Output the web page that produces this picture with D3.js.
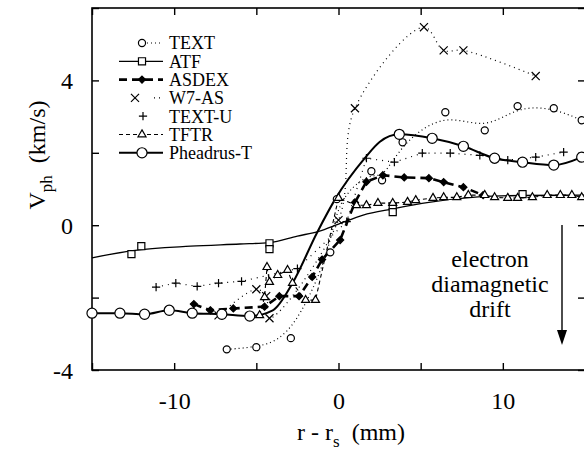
<!DOCTYPE html>
<html>
<head>
<meta charset="utf-8">
<script src="https://cdn.jsdelivr.net/npm/d3@7"></script>
<style>
    body { margin: 0; background: #fff; }
</style>
</head>
<body>
<div id="chart"></div>
<script>
// axis ticks
const xTicks = [-15, -10, -5, 0, 5, 10, 15];
const xLabels = [-10, 0, 10];
const yTicks = [-4, -2, 0, 2, 4, 6];
const yLabels = [-4, 0, 4];

const seriesNames = ["TEXT", "ATF", "ASDEX", "W7-AS", "TEXT-U", "TFTR", "Pheadrus-T"];

// [r - rs (mm), Vph (km/s)]
const textPts = [[-6.8, -3.43], [-5.0, -3.37], [-2.9, -3.12], [-0.5, -0.75], [-0.1, 0.72],
    [2.0, 1.49], [2.65, 1.24], [3.9, 2.29], [6.5, 3.12], [8.9, 2.62], [10.9, 3.29], [13.1, 3.23], [14.8, 2.9]];
const atfPts = [[-12.6, -0.8], [-12.0, -0.58], [-4.2, -0.5], [-4.2, -0.66], [3.3, 0.52], [3.3, 0.36], [11.2, 0.86]];
const atfFit = [[-15, -0.9], [-12.5, -0.7], [-9, -0.58], [-6, -0.52], [-4.2, -0.48], [-2.5, -0.3], [-1.2, -0.17],
    [0, 0.03], [1.5, 0.28], [3.3, 0.45], [5.5, 0.63], [8.5, 0.78], [11.2, 0.82], [15, 0.83]];
const asdexPts = [[-8.8, -2.18], [-7.8, -2.35], [-6.4, -2.3], [-4.5, -2.25], [-3.6, -1.96], [-2.4, -1.96],
    [-1.6, -1.43], [-1.0, -0.95], [0.1, -0.41], [1.0, 0.63], [1.7, 1.2], [2.7, 1.38], [4.0, 1.32], [5.5, 1.3],
    [6.4, 1.19], [7.6, 1.05], [8.8, 0.83]];
const w7asPts = [[-7.3, -2.49], [-5.0, -1.77], [-4.4, -1.96], [-4.2, -2.57], [0.0, 0.14], [1.0, 3.23],
    [5.2, 5.47], [6.4, 4.83], [7.6, 4.83], [12.0, 4.12]];
const textUPts = [[-11.1, -1.71], [-9.9, -1.6], [-8.6, -1.69], [-7.3, -1.6], [-5.9, -1.55], [-2.5, -1.2],
    [0.5, 0.1], [1.7, 1.85], [3.4, 1.74], [5.1, 1.99], [6.8, 1.99], [8.6, 1.93], [10.3, 1.8], [12.0, 1.88], [13.7, 2.02]];
const tftrPts = [[-4.8, -2.49], [-4.5, -1.99], [-4.35, -1.16], [-4.2, -1.57], [-3.7, -1.38], [-3.1, -1.24],
    [-2.8, -1.6], [-2.0, -2.07], [-1.4, -2.07], [0.0, 0.75], [1.1, 0.55], [1.7, 0.55], [2.4, 0.61], [3.3, 0.61],
    [4.2, 0.64], [4.7, 0.69], [5.75, 0.75], [6.4, 0.77], [7.2, 0.77], [7.9, 0.83], [8.9, 0.83], [9.5, 0.77],
    [10.3, 0.75], [10.9, 0.75], [11.8, 0.77], [12.7, 0.83], [13.5, 0.83], [14.2, 0.83], [14.8, 0.77]];
const pheadrusPts = [[-15, -2.43], [-13.3, -2.43], [-11.8, -2.46], [-10.3, -2.35], [-8.9, -2.43], [-7.1, -2.46],
    [-5.4, -2.51], [3.7, 2.51], [5.7, 2.4], [7.6, 2.18], [9.5, 1.85], [11.2, 1.74], [13.1, 1.66], [14.8, 1.88]];
const pheadrusFit = [[-15, -2.43], [-13.3, -2.43], [-11.8, -2.46], [-10.3, -2.35], [-8.9, -2.43], [-7.1, -2.46],
    [-5.4, -2.51], [-4.0, -2.35], [-2.8, -1.6], [-1.3, -0.2], [-0.2, 0.72], [1.6, 1.85], [2.5, 2.3], [3.7, 2.51],
    [5.7, 2.4], [7.6, 2.18], [9.5, 1.85], [11.2, 1.74], [13.1, 1.66], [14.8, 1.88]];

const noteLines = ["electron", "diamagnetic", "drift"];

const width = 584, height = 455;
const margin = {left: 92, top: 8, right: -1, bottom: 85};
const serif = '"Liberation Serif", "Times New Roman", serif';

const svg = d3.select("#chart").append("svg")
    .attr("width", width)
    .attr("height", height)
    .style("display", "block")
    .style("font-family", serif);

const x = d3.scaleLinear().domain([-15, 15]).range([margin.left, width - margin.right]);
const y = d3.scaleLinear().domain([-4, 6]).range([height - margin.bottom, margin.top]);

const styles = {
    "TEXT":       {pts: textPts, line: textPts, curve: d3.curveBasis, width: 1.2, dash: "1,3", sym: d3.symbolCircle, size: 40, fill: "#fff", lx: [147, 163], mx: 142},
    "ATF":        {pts: atfPts, line: atfFit, curve: d3.curveMonotoneX, width: 1.3, dash: null, sym: d3.symbolSquare, size: 50, fill: "#fff", lx: [119, 163], mx: 142},
    "ASDEX":      {pts: asdexPts, line: asdexPts, curve: d3.curveLinear, width: 2.6, dash: "8,5", sym: d3.symbolDiamond2, size: 32, fill: "#000", lx: [119, 163], mx: 142},
    "W7-AS":      {pts: w7asPts, line: w7asPts, curve: d3.curveCatmullRom, width: 1.2, dash: "1,4", sym: d3.symbolTimes, size: 44, fill: "none", lx: [154, 160], mx: 135},
    "TEXT-U":     {pts: textUPts, line: textUPts, curve: d3.curveLinear, width: 1.2, dash: "1,5", sym: d3.symbolPlus, size: 24, fill: "none", lx: null, mx: 143},
    "TFTR":       {pts: tftrPts, line: tftrPts, curve: d3.curveLinear, width: 1.1, dash: "4,3", sym: d3.symbolTriangle, size: 28, fill: "#fff", lx: [119, 163], mx: 142},
    "Pheadrus-T": {pts: pheadrusPts, line: pheadrusFit, curve: d3.curveMonotoneX, width: 2, dash: null, sym: d3.symbolCircle, size: 80, fill: "#fff", lx: [119, 163], mx: 142}
};

// frame
svg.append("rect")
    .attr("x", x(-15)).attr("y", y(6))
    .attr("width", x(15) - x(-15)).attr("height", y(-4) - y(6))
    .attr("fill", "none").attr("stroke", "#000").attr("stroke-width", 1.6);

// axes with inward ticks
const fmtX = d => xLabels.includes(d) ? d : "";
const fmtY = d => yLabels.includes(d) ? d : "";

const xAxis = svg.append("g")
    .attr("transform", `translate(0, ${y(-4)})`)
    .call(d3.axisBottom(x).tickValues(xTicks).tickSize(-7).tickPadding(22).tickFormat(fmtX));
const xTop = svg.append("g")
    .attr("transform", `translate(0, ${y(6)})`)
    .call(d3.axisTop(x).tickValues(xTicks).tickSize(-7).tickFormat(""));
const yAxis = svg.append("g")
    .attr("transform", `translate(${x(-15)}, 0)`)
    .call(d3.axisLeft(y).tickValues(yTicks).tickSize(-7).tickPadding(19).tickFormat(fmtY));
const yRight = svg.append("g")
    .attr("transform", `translate(${x(15)}, 0)`)
    .call(d3.axisRight(y).tickValues(yTicks).tickSize(-7).tickFormat(""));

svg.selectAll(".domain").remove();
[xAxis, xTop, yAxis, yRight].forEach(g => g.style("font-family", serif).attr("font-size", 24));
svg.selectAll(".tick line").attr("stroke", "#000").attr("stroke-width", 1.4);
svg.selectAll(".tick text").attr("fill", "#000").style("font-family", serif);
yAxis.selectAll(".tick text").attr("dy", "0.35em");

// axis titles
const xTitle = svg.append("text")
    .attr("x", 351).attr("y", 440)
    .attr("text-anchor", "middle")
    .attr("font-size", 24);
xTitle.append("tspan").text("r - r");
xTitle.append("tspan").attr("font-size", 17).attr("dy", 7).text("s");
xTitle.append("tspan").attr("dy", -7).text("\u00a0 (mm)");

const yTitle = svg.append("text")
    .attr("transform", "translate(45, 155) rotate(-90)")
    .attr("text-anchor", "middle")
    .attr("font-size", 24);
yTitle.append("tspan").text("V");
yTitle.append("tspan").attr("font-size", 17).attr("dy", 7).text("ph");
yTitle.append("tspan").attr("dy", -7).text("\u00a0 (km/s)");

// series
const plot = svg.append("g");
seriesNames.forEach(name => {
    const s = styles[name];
    const line = d3.line()
        .x(d => x(d[0]))
        .y(d => y(d[1]))
        .curve(s.curve);
    plot.append("path")
        .datum(s.line)
        .attr("d", line)
        .attr("fill", "none")
        .attr("stroke", "#000")
        .attr("stroke-width", s.width)
        .attr("stroke-dasharray", s.dash);
});
seriesNames.forEach(name => {
    const s = styles[name];
    const sym = d3.symbol().type(s.sym).size(s.size);
    plot.append("g").selectAll("path")
        .data(s.pts)
        .join("path")
        .attr("transform", d => `translate(${x(d[0])}, ${y(d[1])})`)
        .attr("d", sym)
        .attr("fill", s.fill)
        .attr("stroke", "#000")
        .attr("stroke-width", 1.2);
});

// legend
const legend = svg.append("g");
seriesNames.forEach((name, i) => {
    const s = styles[name];
    const ly = 43 + i * 18.3;
    if (s.lx) {
        legend.append("line")
            .attr("x1", s.lx[0]).attr("x2", s.lx[1])
            .attr("y1", ly).attr("y2", ly)
            .attr("stroke", "#000")
            .attr("stroke-width", s.width)
            .attr("stroke-dasharray", s.dash);
    }
    legend.append("path")
        .attr("transform", `translate(${s.mx}, ${ly})`)
        .attr("d", d3.symbol().type(s.sym).size(s.size))
        .attr("fill", s.fill)
        .attr("stroke", "#000")
        .attr("stroke-width", 1.2);
    legend.append("text")
        .attr("x", 169).attr("y", ly)
        .attr("dy", "0.35em")
        .attr("font-size", 18)
        .text(name);
});

// electron diamagnetic drift note
svg.append("g").selectAll("text")
    .data(noteLines)
    .join("text")
    .attr("x", 490)
    .attr("y", (d, i) => 267 + i * 25)
    .attr("text-anchor", "middle")
    .attr("font-size", 24)
    .text(d => d);

svg.append("line")
    .attr("x1", 562).attr("x2", 562)
    .attr("y1", 225).attr("y2", 333)
    .attr("stroke", "#000").attr("stroke-width", 1.4);
svg.append("path")
    .attr("d", "M557,330L567,330L562,345Z")
    .attr("fill", "#000");
</script>
</body>
</html>
